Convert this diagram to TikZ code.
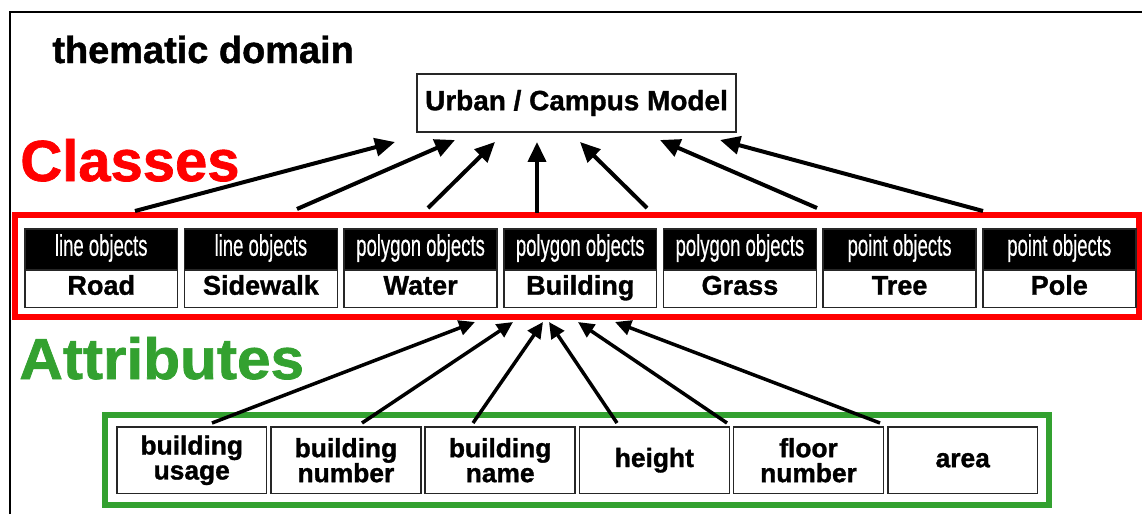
\documentclass[tikz,border=0pt]{standalone}
\usepackage{fontspec}
\setmainfont{Liberation Sans}
\newfontfamily\heavy[BoldFeatures={FakeBold=1.2}]{Liberation Sans}
\newfontfamily\hdrfont[FakeBold=0.6]{Liberation Sans}
\usetikzlibrary{arrows.meta,calc}

\definecolor{clsred}{RGB}{255,0,0}
\definecolor{attgreen}{RGB}{51,161,48}

% condensed white caption inside the black class headers
\newcommand{\hdrtext}[1]{\scalebox{0.62}[1]{#1}}

\begin{document}
\begin{tikzpicture}[x=0.02cm,y=-0.02cm,
  title/.style={inner sep=0, anchor=base west, font=\heavy\bfseries\fontsize{21.6pt}{24pt}\selectfont},
  bigword/.style={inner sep=0, anchor=base west, font=\heavy\bfseries\fontsize{33pt}{38pt}\selectfont},
  modelbox/.style={draw=black!85, line width=0.03cm, minimum width=6.38cm, minimum height=1.16cm,
    inner sep=0, font=\heavy\bfseries\fontsize{15.9pt}{18pt}\selectfont},
  hdr/.style={draw=black!85, fill=black, text=white, line width=0.03cm, minimum width=3.06cm,
    minimum height=0.82cm, inner sep=0, anchor=north west, text height=12pt, text depth=4.6pt,
    font=\hdrfont\fontsize{17pt}{20pt}\selectfont},
  nmbox/.style={draw=black!85, fill=white, line width=0.03cm, minimum width=3.06cm,
    minimum height=0.76cm, inner sep=0, anchor=north west, text height=11pt, text depth=4.2pt,
    font=\heavy\bfseries\fontsize{15.4pt}{18pt}\selectfont},
  attbox/.style={draw=black!85, line width=0.03cm, minimum width=3.0cm, minimum height=1.34cm,
    inner sep=0, anchor=north west, align=center, font=\heavy\bfseries\fontsize{15pt}{14.2pt}\selectfont},
  uparrow/.style={line width=0.08cm, -{Triangle[length=0.4cm,width=0.36cm]}},
  attarrow/.style={line width=0.07cm, -{Triangle[length=0.32cm,width=0.3cm]}}
]
\useasboundingbox (0,0) rectangle (1142,514);

% outer frame (runs off the page to the right and bottom)
\draw[line width=0.04cm] (10,514) -- (10,12) -- (1142,12);

% headings
\node[title] (domain) at (52,63) {thematic domain};
\node[bigword, text=clsred] (classes) at (20,181) {Classes};
\node[bigword, text=attgreen] (attributes) at (19,379) {\scalebox{1.04}[1]{Attributes}};

% top model
\node[modelbox] (urban) at (576.5,103) {Urban / Campus Model};

% class frame and class boxes
\draw[clsred, line width=0.11cm] (15,215) rectangle (1139,317);
\foreach \i/\hd/\nm in {0/line objects/Road, 1/line objects/Sidewalk, 2/polygon objects/Water,
    3/polygon objects/Building, 4/polygon objects/Grass, 5/point objects/Tree, 6/point objects/Pole} {
  \node[hdr] (h\i) at ({24+\i*159.67},228) {\hdrtext{\hd}};
  \node[nmbox] (c\i) at ({24+\i*159.67},269) {\nm};
}

% attribute frame and attribute boxes
\draw[attgreen, line width=0.12cm] (105,415) rectangle (1049,505);
\foreach \i/\t in {0/{building\\usage}, 1/{building\\number}, 2/{building\\name},
    3/{height}, 4/{floor\\number}, 5/{area}} {
  \node[attbox] (a\i) at ({116+\i*154.2},426) {\t};
}

% arrow ends: classes -> model
\coordinate (cs0) at (135,211);  \coordinate (ct0) at (395,142);
\coordinate (cs1) at (297,209);  \coordinate (ct1) at (455,140);
\coordinate (cs2) at (428,208);  \coordinate (ct2) at (495,142);
\coordinate (cs3) at (537,213);  \coordinate (ct3) at (537,142);
\coordinate (cs4) at (647,208);  \coordinate (ct4) at (580,142);
\coordinate (cs5) at (817,208);  \coordinate (ct5) at (660,140);
\coordinate (cs6) at (983,211);  \coordinate (ct6) at (720,140);
\foreach \i in {0,...,6} { \draw[uparrow] (cs\i) -- (ct\i); }

% arrow ends: attributes -> building
\coordinate (as0) at (212,423);  \coordinate (at0) at (475,322);
\coordinate (as1) at (362,423);  \coordinate (at1) at (513,322);
\coordinate (as2) at (473,423);  \coordinate (at2) at (543,322);
\coordinate (as3) at (617,423);  \coordinate (at3) at (549,322);
\coordinate (as4) at (727,423);  \coordinate (at4) at (578,322);
\coordinate (as5) at (880,423);  \coordinate (at5) at (615,322);
\foreach \i in {0,...,5} { \draw[attarrow] (as\i) -- (at\i); }
\end{tikzpicture}
\end{document}
